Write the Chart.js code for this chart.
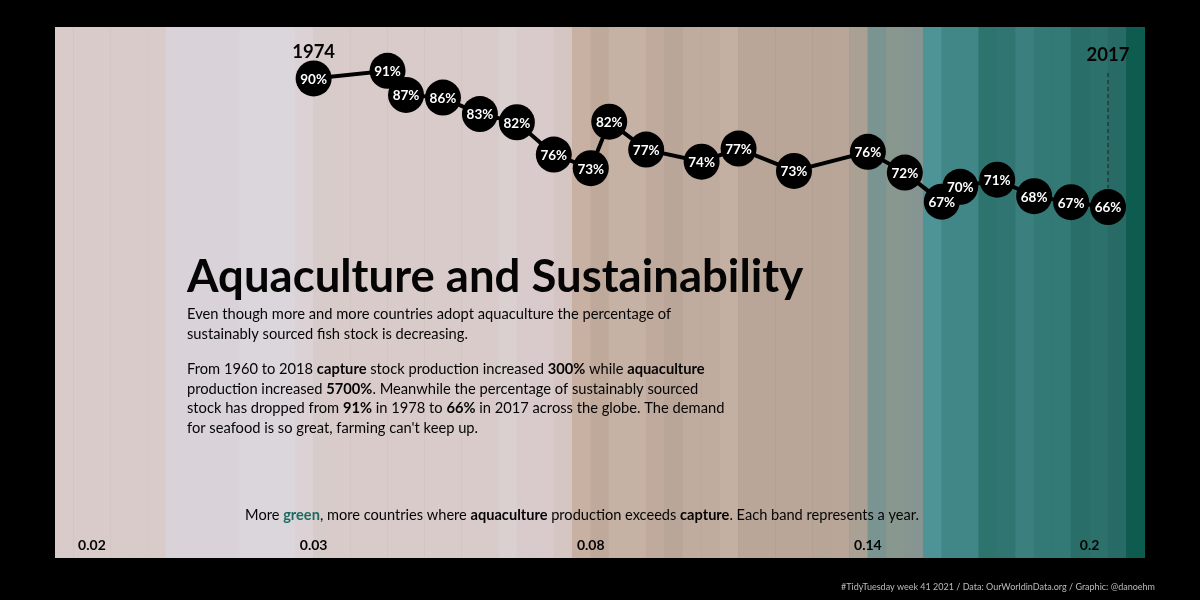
<!DOCTYPE html>
<html>
<head>
<meta charset="utf-8">
<script src="https://cdn.jsdelivr.net/npm/chart.js@4.4.1/dist/chart.umd.min.js"></script>
<style>
  html, body { margin: 0; padding: 0; background: #000; }
  #wrap { width: 1200px; height: 600px; }
</style>
</head>
<body>
<div id="wrap"><canvas id="fishChart" width="1200" height="600"></canvas></div>
<script>
// one band per year
const years = [1960, 1961, 1962, 1963, 1964, 1965, 1966, 1967, 1968, 1969,
  1970, 1971, 1972, 1973, 1974, 1975, 1976, 1977, 1978, 1979,
  1980, 1981, 1982, 1983, 1984, 1985, 1986, 1987, 1988, 1989,
  1990, 1991, 1992, 1993, 1994, 1995, 1996, 1997, 1998, 1999,
  2000, 2001, 2002, 2003, 2004, 2005, 2006, 2007, 2008, 2009,
  2010, 2011, 2012, 2013, 2014, 2015, 2016, 2017, 2018];

// share of sustainably sourced fish stocks (%)
const stockYears = [1974, 1978, 1979, 1981, 1983, 1985, 1987, 1989, 1990, 1992,
  1995, 1997, 2000, 2004, 2006, 2008, 2009, 2011, 2013, 2015, 2017];
const stockPct = [89.6, 91.0, 86.6, 86.1, 83.1, 81.6, 75.7, 73.2, 81.7, 76.6,
  74.4, 76.8, 72.7, 76.2, 72.4, 67.1, 69.8, 71.1, 68.1, 67.0, 66.1];

// band labels (share of countries where aquaculture > capture)
const bandTickYears = [1962, 1974, 1989, 2004, 2016];
const bandTickLabels = ['0.02', '0.03', '0.08', '0.14', '0.2'];

const bandColors = [
  '#d9cbc9', '#d9cbc9', '#d9cbc9', '#d9cbc9', '#d9cbc9', '#d9cbc9',
  '#d9d3d9', '#d9d3d9', '#d9d3d9', '#d9d3d9', '#dbd6dc', '#dbd6dc', '#dbd6dc',
  '#dcd1d5', '#d8cccb', '#d9cbca', '#d9cbca', '#d9cbca', '#d9cbca', '#d9cbca',
  '#d9cbca', '#d9cbca', '#d9cbca', '#d9cbca', '#dad0d0', '#d9cbcb', '#d9cbcb',
  '#d6c6c3', '#c8b0a3', '#bfa99b', '#c6b2a5', '#c6b2a5', '#c0aa9d', '#b9a698',
  '#c0ab9f', '#c0ab9f', '#c4b0a3', '#b9a698', '#b9a698', '#b9a698', '#b9a698',
  '#b7a597', '#b9a698', '#aaa093', '#7a9492', '#89988f', '#869591', '#4e9396',
  '#428787', '#428787', '#2e746e', '#307571', '#3b807e', '#337a76', '#337a76',
  '#2a6e69', '#2d716c', '#286b66', '#0e5b50'
];

const FONT = 'Lato, "Noto Sans", sans-serif';
const INK = '#050505';

// draw a line of mixed normal / bold runs
function drawRuns(ctx, runs, x, y, size, align) {
  const font = b => (b ? 'bold ' : '') + size + 'px ' + FONT;
  let total = 0;
  runs.forEach(r => { ctx.font = font(r[1]); total += ctx.measureText(r[0]).width; });
  let cx = align === 'center' ? x - total / 2 : x;
  ctx.textAlign = 'left';
  runs.forEach(r => {
    ctx.font = font(r[1]);
    ctx.fillStyle = r[2] || INK;
    ctx.fillText(r[0], cx, y);
    cx += ctx.measureText(r[0]).width;
  });
}

const subtitle = [
  [['Even though more and more countries adopt aquaculture the percentage of', false]],
  [['sustainably sourced fish stock is decreasing.', false]]
];
const story = [
  [['From 1960 to 2018 ', false], ['capture', true], [' stock production increased ', false],
   ['300%', true], [' while ', false], ['aquaculture', true]],
  [['production increased ', false], ['5700%', true],
   ['. Meanwhile the percentage of sustainably sourced', false]],
  [['stock has dropped from ', false], ['91%', true], [' in 1978 to ', false], ['66%', true],
   [' in 2017 across the globe. The demand', false]],
  [['for seafood is so great, farming can\'t keep up.', false]]
];
const caption = [
  ['More ', false], ['green', true, '#1d6b60'], [', more countries where ', false],
  ['aquaculture', true], [' production exceeds ', false], ['capture', true],
  ['. Each band represents a year.', false]
];

const blackBg = {
  id: 'blackBg',
  beforeDraw(chart) {
    const ctx = chart.ctx;
    ctx.save();
    ctx.fillStyle = '#000';
    ctx.fillRect(0, 0, chart.width, chart.height);
    ctx.restore();
  }
};

const annotations = {
  id: 'annotations',
  afterDatasetsDraw(chart) {
    const ctx = chart.ctx;
    const xl = chart.scales.xl;
    const pts = chart.getDatasetMeta(1).data;
    ctx.save();
    ctx.textBaseline = 'middle';

    // percentage inside each dot
    ctx.fillStyle = '#fff';
    ctx.textAlign = 'center';
    ctx.font = 'bold 13.5px ' + FONT;
    pts.forEach((p, i) => {
      ctx.fillText(Math.round(stockPct[i]) + '%', p.x, p.y + 1);
    });

    // first / last year
    ctx.fillStyle = INK;
    ctx.font = 'bold 18.5px ' + FONT;
    ctx.fillText(stockYears[0], pts[0].x, 52);
    const last = pts[pts.length - 1];
    ctx.fillText(stockYears[stockYears.length - 1], last.x, 55);
    ctx.strokeStyle = '#222';
    ctx.lineWidth = 1;
    ctx.setLineDash([4, 3]);
    ctx.beginPath();
    ctx.moveTo(last.x, 73);
    ctx.lineTo(last.x, last.y - 19);
    ctx.stroke();
    ctx.setLineDash([]);

    // band value labels
    ctx.font = 'bold 14px ' + FONT;
    bandTickYears.forEach((y, i) => {
      ctx.fillText(bandTickLabels[i], xl.getPixelForValue(y), 545);
    });

    // title and text block
    ctx.textBaseline = 'alphabetic';
    ctx.textAlign = 'left';
    ctx.font = 'bold 45.5px ' + FONT;
    ctx.fillText('Aquaculture and Sustainability', 187, 292);
    subtitle.forEach((l, i) => drawRuns(ctx, l, 187, 319 + i * 19.5, 14.7));
    story.forEach((l, i) => drawRuns(ctx, l, 187, 374 + i * 19.5, 14.7));
    drawRuns(ctx, caption, 582, 520, 14.6, 'center');

    // credit
    ctx.textAlign = 'right';
    ctx.fillStyle = '#bbb';
    ctx.font = '9px ' + FONT;
    ctx.fillText('#TidyTuesday week 41 2021 / Data: OurWorldinData.org / Graphic: @danoehm', 1155, 590);
    ctx.restore();
  }
};

const ctx = document.getElementById('fishChart').getContext('2d');
new Chart(ctx, {
  data: {
    labels: years,
    datasets: [{
      type: 'bar',
      data: years.map(() => 1),
      backgroundColor: bandColors,
      borderWidth: 0,
      barPercentage: 1,
      categoryPercentage: 1,
      grouped: false,
      xAxisID: 'x',
      yAxisID: 'yb',
      order: 2
    }, {
      type: 'line',
      data: stockYears.map((y, i) => ({ x: y, y: stockPct[i] })),
      borderColor: '#000',
      borderWidth: 4,
      pointRadius: 18,
      pointBackgroundColor: '#000',
      pointBorderWidth: 0,
      tension: 0,
      xAxisID: 'xl',
      yAxisID: 'y',
      order: 1
    }]
  },
  options: {
    responsive: false,
    animation: false,
    layout: { padding: { left: 55, right: 55, top: 27, bottom: 42 } },
    plugins: { legend: { display: false }, tooltip: { enabled: false } },
    scales: {
      x: { type: 'category', display: false, offset: true, ticks: { autoSkip: false } },
      xl: { type: 'linear', display: false, offset: false, min: 1960, max: 2019 },
      y: { type: 'linear', display: false, min: 2, max: 99 },
      yb: { type: 'linear', display: false, min: 0, max: 1 }
    }
  },
  plugins: [blackBg, annotations]
});
</script>
</body>
</html>
